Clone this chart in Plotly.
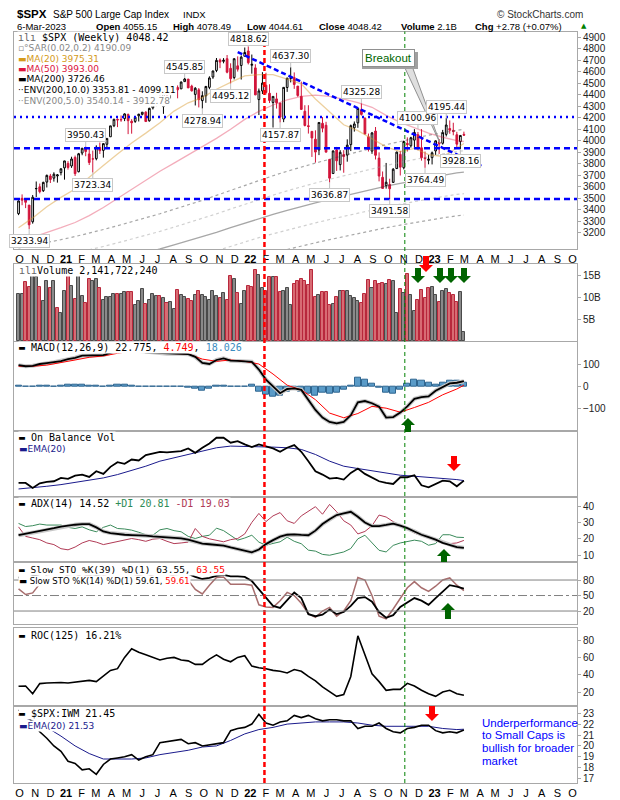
import pandas as pd
import plotly.graph_objects as go

# ======================= DATA =======================
WEEKS = pd.date_range("2020-10-05", periods=127, freq="7D")
PREV_CLOSE0 = 3348.44

OPEN = [3367, 3500, 3493, 3441, 3296, 3583, 3600, 3566, 3641, 3694,
        3675, 3694, 3723, 3764, 3803, 3781, 3855, 3731, 3893, 3939,
        3885, 3842, 3844, 3942, 3916, 3969, 4034, 4130, 4185, 4185,
        4192, 4228, 4169, 4168, 4216, 4229, 4248, 4173, 4285, 4321,
        4373, 4296, 4409, 4406, 4437, 4462, 4450, 4513, 4535, 4474,
        4402, 4442, 4348, 4390, 4463, 4553, 4610, 4701, 4689, 4712,
        4628, 4548, 4650, 4653, 4733, 4779, 4655, 4632, 4357, 4432,
        4482, 4412, 4332, 4363, 4327, 4188, 4462, 4541, 4548, 4474,
        4385, 4256, 4130, 4081, 4013, 3920, 4151, 4134, 3838, 3715,
        3920, 3792, 3880, 3875, 3966, 4112, 4155, 4269, 4195, 4034,
        3910, 4084, 3849, 3682, 3610, 3620, 3638, 3758, 3881, 3765,
        3977, 3956, 4005, 4052, 3939, 3853, 3830, 3853, 3911, 3989,
        3978, 4055, 4106, 4090, 4052, 3992, 4055.15]
HIGH = [3482, 3534, 3501, 3441, 3529, 3646, 3628, 3644, 3706, 3712,
        3726, 3711, 3760, 3826, 3823, 3861, 3871, 3894, 3937, 3950.43,
        3928, 3914, 3960, 3984, 3978, 4020, 4129, 4191, 4194, 4219,
        4238, 4236, 4187, 4213, 4234, 4249, 4256, 4286, 4355, 4372,
        4394, 4415, 4430, 4440, 4468, 4480, 4513, 4545.85, 4535, 4486,
        4465, 4457, 4429, 4475, 4559, 4608, 4718, 4714, 4717, 4744,
        4672, 4713, 4732, 4740, 4809, 4818.62, 4748, 4664, 4453, 4595,
        4590, 4490, 4385, 4416, 4327, 4465, 4546, 4637.30, 4593, 4471,
        4513, 4308, 4308, 4081, 4090, 4158, 4205, 4164, 3838, 3913,
        3946, 3918, 3918, 4012, 4140, 4167, 4280, 4325.28, 4203, 4062,
        4076, 4119, 3899, 3733, 3807, 3670, 3762, 3905, 3912, 4001,
        4029, 4034, 4100.5, 4076, 4100.96, 3906, 3878, 3906, 4003, 4015,
        4094, 4195.44, 4176, 4156, 4077, 4049, 4078.49]
LOW = [3354, 3440, 3415, 3233.94, 3280, 3511, 3543, 3555, 3594, 3633,
       3645, 3636, 3699, 3662, 3749, 3764, 3694, 3725, 3874, 3865,
       3789, 3723.34, 3830, 3885, 3853, 3939, 4035, 4118, 4118, 4164,
       4170, 4057, 4061, 4155, 4167, 4220, 4164, 4165, 4271, 4300,
       4322, 4233, 4360, 4367, 4422, 4368, 4450, 4513, 4457, 4427,
       4306, 4289, 4278.94, 4329, 4447, 4537, 4595, 4630, 4672, 4585,
       4495.12, 4532, 4600, 4531, 4733, 4662, 4582, 4395, 4222.62, 4405,
       4401, 4327, 4114.65, 4279, 4157.87, 4161, 4424, 4506, 4450, 4381,
       4267, 4124, 4062, 3859, 3810, 3875, 4073, 3900, 3636.87, 3715,
       3738, 3742, 3722, 3818, 3910, 4079, 4112, 4218, 4057, 3906,
       3886, 3837, 3647, 3584, 3584, 3491.58, 3644, 3764, 3698, 3751,
       3906, 3940, 3938, 3918, 3827, 3764.49, 3795, 3794, 3877, 3885,
       3966, 4037, 4060, 4047, 3943, 3928.16, 4044.61]
CLOSE = [3477.13, 3483.81, 3465.39, 3269.96, 3509.44, 3585.15, 3557.54, 3638.35, 3699.12, 3663.46,
         3709.41, 3703.06, 3756.07, 3824.68, 3768.25, 3841.47, 3714.24, 3886.83, 3934.83, 3906.71,
         3811.15, 3841.94, 3943.34, 3913.10, 3974.54, 4019.87, 4128.80, 4185.47, 4180.17, 4181.17,
         4232.60, 4173.85, 4155.86, 4204.11, 4229.89, 4247.44, 4166.45, 4280.70, 4352.34, 4369.55,
         4327.16, 4411.79, 4395.26, 4436.52, 4468.00, 4441.67, 4509.37, 4535.43, 4458.58, 4432.99,
         4455.48, 4357.04, 4391.34, 4471.37, 4544.90, 4605.38, 4697.53, 4682.85, 4697.96, 4594.62,
         4538.43, 4712.02, 4620.64, 4725.79, 4766.18, 4677.03, 4662.85, 4397.94, 4431.85, 4500.53,
         4418.64, 4348.87, 4384.65, 4328.87, 4204.31, 4463.12, 4543.06, 4545.86, 4488.28, 4392.59,
         4271.78, 4131.93, 4123.34, 4023.89, 3901.36, 4158.24, 4108.54, 3900.86, 3674.84, 3911.74,
         3825.33, 3899.38, 3863.16, 3961.63, 4130.29, 4145.19, 4280.15, 4228.48, 4057.66, 3924.26,
         4067.36, 3873.33, 3693.23, 3585.62, 3639.66, 3583.07, 3752.75, 3901.06, 3770.55, 3992.93,
         3965.34, 4026.12, 4071.70, 3934.38, 3852.36, 3844.82, 3839.50, 3895.08, 3999.09, 3972.61,
         4070.56, 4136.48, 4090.46, 4079.09, 3970.04, 4045.64, 4048.42]
VOLUME_B = [10.9, 10.8, 13.5, 12.4, 15.0, 14.8, 12.4, 9.2, 13.8, 12.1,
            13.8, 7.6, 6.4, 11.6, 15.1, 12.7, 9.7, 15.1, 10.3, 8.7,
            14.3, 13.8, 14.3, 12.1, 9.5, 10.2, 10.2, 10.7, 10.8, 10.7,
            11.2, 11.2, 11.2, 8.2, 9.1, 12.0, 8.5, 9.5, 10.9, 10.4,
            10.4, 9.8, 8.8, 8.9, 7.4, 11.7, 10.5, 10.0, 9.6, 9.2,
            10.6, 11.5, 10.5, 10.2, 9.5, 11.5, 10.3, 9.8, 11.0, 9.5,
            14.9, 14.3, 11.0, 8.5, 11.4, 12.6, 12.3, 16.2, 15.2, 12.2,
            11.5, 14.6, 14.8, 14.8, 11.2, 11.5, 12.2, 8.2, 13.1, 13.8,
            14.2, 13.7, 12.9, 16.4, 10.0, 10.5, 11.2, 11.2, 8.3, 8.5,
            10.0, 11.6, 11.6, 11.5, 10.4, 9.8, 9.2, 8.7, 10.8, 14.1,
            12.2, 13.9, 13.1, 13.3, 13.1, 14.0, 13.9, 6.5, 12.0, 11.0,
            15.4, 10.6, 6.9, 9.5, 11.8, 9.8, 12.2, 12.5, 10.6, 9.0,
            11.5, 12.0, 11.0, 10.5, 9.0, 11.3, 2.14]

# overlays on a 4-week grid (weeks 0,4,...,124,126)
MA20 = [3245, 3330, 3427, 3508, 3581, 3686, 3784, 3885, 3981, 4066, 4155, 4257, 4329, 4374, 4447, 4506,
        4562, 4573, 4574, 4535, 4494, 4362, 4246, 4138, 4087, 4016, 3946, 3905, 3933, 3880, 3863, 3937, 3975.31]
MA50 = [3120, 3160, 3200, 3245, 3290, 3350, 3420, 3500, 3580, 3660, 3735, 3805, 3875, 3945, 4020, 4100,
        4185, 4255, 4310, 4355, 4385, 4395, 4385, 4360, 4330, 4290, 4220, 4160, 4110, 4065, 4030, 4000, 3993.00]
MA200 = [2790, 2810, 2830, 2855, 2880, 2905, 2935, 2965, 2995, 3025, 3060, 3095, 3130, 3165, 3205, 3245,
         3285, 3325, 3360, 3395, 3430, 3460, 3490, 3520, 3550, 3580, 3605, 3630, 3655, 3680, 3700, 3720, 3726.46]
ENV10_UP = [3069, 3091, 3113, 3141, 3168, 3196, 3229, 3262, 3295, 3328, 3366, 3405, 3443, 3482, 3526, 3570,
            3614, 3658, 3696, 3735, 3773, 3806, 3839, 3872, 3905, 3938, 3966, 3993, 4021, 4048, 4070, 4092, 4099.11]
ENV10_LO = [2511, 2529, 2547, 2570, 2592, 2615, 2642, 2669, 2696, 2723, 2754, 2786, 2817, 2849, 2885, 2921,
            2957, 2993, 3024, 3056, 3087, 3114, 3141, 3168, 3195, 3222, 3245, 3267, 3290, 3312, 3330, 3348, 3353.81]
ENV5_UP = [2930, 2951, 2972, 2998, 3024, 3050, 3082, 3113, 3145, 3176, 3213, 3250, 3287, 3323, 3365, 3407,
           3449, 3491, 3528, 3565, 3602, 3633, 3665, 3696, 3728, 3759, 3785, 3812, 3838, 3864, 3885, 3906, 3912.78]
ENV5_LO = [2651, 2670, 2689, 2712, 2736, 2760, 2788, 2817, 2845, 2874, 2907, 2940, 2974, 3007, 3045, 3082,
           3121, 3159, 3192, 3225, 3259, 3287, 3316, 3344, 3373, 3401, 3425, 3449, 3472, 3496, 3515, 3534, 3540.14]

H_LINES_DOT = [4205]
H_LINES_DASH = [3935, 3495]
TREND_DATES = ["2021-12-13", "2023-04-10"]
TREND_VALS = [4770, 3780]
RED_LINE_DATE = "2022-02-04"
GREEN_LINE_DATE = "2022-11-09"

LABEL_IDX = [3, 19, 21, 47, 52, 60, 65, 74, 77, 88, 97, 105, 113, 115, 121, 125]
LABEL_VAL = [3233.94, 3950.43, 3723.34, 4545.85, 4278.94, 4495.12, 4818.62, 4157.87, 4637.30,
             3636.87, 4325.28, 3491.58, 4100.96, 3764.49, 4195.44, 3928.16]
LABEL_HIGH = [False, True, False, True, False, False, True, False, True,
              False, True, False, True, False, True, False]

# indicators on a 2-week grid (weeks 0,2,...,126)
MACD = [95, 90, 92, 100, 104, 108, 113, 122,
        128, 138, 138, 137, 140, 150, 160, 165,
        162, 158, 152, 150, 148, 146, 147, 146,
        144, 132, 105, 100, 118, 125, 115, 114,
        112, 110, 75, 30, 0, -31, -12, -9,
        -16, -60, -106, -140, -160, -166, -160, -130,
        -72, -66, -76, -91, -140, -138, -118, -90,
        -56, -48, -45, -20, -5, 13, 16, 22.775]
MACD_HIST = [5, 0, -3, 2, 2, 0, 3, 8,
             6, 8, 5, 2, 0, 5, 8, 6,
             2, -3, -2, 0, -3, -2, 0, -1,
             -4, -10, -18, -12, 3, 5, -2, 0,
             -1, 8, -25, -38, -45, -40, -25, -15,
             -25, -35, -40, -30, -35, -30, -15, 5,
             38, 30, 12, -5, -28, -32, -15, 12,
             28, 25, 15, 8, 18, 25, 24, 18.026]
MACD_SIGNAL = [90, 90, 95, 105, 118, 130, 136, 148,
               158, 155, 150, 147, 145, 122, 112, 118,
               112, 100, 55, 5, -16, -60, -120, -141,
               -122, -90, -98, -116, -95, -72, -38, -12, 4.749]
OBV = [35, 35, 20, 34, 38, 40, 50, 47,
       57, 60, 53, 70, 62, 83, 97, 92,
       105, 102, 118, 122, 128, 126, 128, 130,
       138, 125, 140, 153, 170, 170, 155, 160,
       150, 142, 150, 145, 138, 128, 140, 148,
       128, 100, 70, 60, 48, 50, 45, 65,
       78, 62, 52, 40, 35, 32, 52, 52,
       58, 28, 22, 32, 42, 40, 25, 42]
OBV_EMA = [17, 20, 25, 30, 37, 43, 50, 60, 72, 85, 100, 110, 120, 130, 140, 145,
           145, 143, 142, 140, 135, 120, 100, 85, 78, 72, 65, 58, 55, 52, 48, 45, 42]
ADX = [22.2, 23, 24, 25, 25.5, 26.5, 27.5, 28.2,
       28.6, 29, 29, 27, 24.5, 23.5, 22.9, 22.5,
       22.3, 22.2, 22, 21.5, 21.2, 21, 20.6, 20.3,
       19.5, 18.2, 17.1, 16.7, 16.3, 15.9, 14.8, 13.7,
       12.6, 11.8, 13.5, 16.8, 19.2, 21.3, 22.5, 22.7,
       22.4, 22.2, 25, 29, 32, 34.5, 35.5, 36.5,
       33.5, 30, 27.8, 27.8, 28.5, 29.3, 28, 26.5,
       24.5, 22.5, 21, 19.5, 17.5, 16.1, 15, 14.52]
PLUS_DI = [29.4, 27.5, 28, 29, 28.4, 28.4, 28.4, 27,
           26.3, 27.3, 25.5, 24.3, 27, 28.4, 26.3, 26,
           25.3, 24, 22.5, 22.2, 25.5, 26.3, 25, 24.3,
           21.5, 20.2, 21.5, 22.2, 26.5, 25, 22.2, 19.2,
           20.5, 22.2, 18, 16.1, 17.2, 18.2, 21, 18.5,
           17, 13.1, 12.5, 10.5, 10, 11, 12, 14.1,
           20, 22.2, 17.5, 13, 12, 16, 17.5, 18.2,
           19.2, 18.5, 16.1, 17.1, 22.5, 22.5, 21, 20.81]
MINUS_DI = [27.3, 21.5, 20.5, 19.5, 17.5, 16.5, 14, 13.3,
            15, 17.5, 19, 18, 16.5, 17.5, 18.2, 19.5,
            20.2, 19.5, 18.5, 19.8, 20.2, 18.5, 17.1, 17.5,
            18, 26.3, 21.5, 20, 19, 18.2, 19.5, 20.2,
            23, 30, 35.5, 30.5, 34, 36, 31, 29.4,
            34, 37, 39.6, 35, 41, 36.5, 31, 28.4,
            23, 24.5, 28, 34.5, 33.3, 30.5, 28.5, 26,
            23.5, 22, 20.5, 19.5, 17.1, 17.1, 17.5, 19.03]
STO39 = [85, 82, 88, 92, 95, 96, 95, 94,
         93, 95, 92, 90, 92, 95, 96, 97,
         97, 96, 95, 96, 97, 96, 95, 94,
         92, 86, 82, 84, 88, 90, 87, 87,
         86, 78, 62, 45, 30, 26, 40, 56,
         45, 14, 10, 13, 23, 14, 18, 30,
         45, 47, 38, 18, 7, 12, 28, 36,
         45, 40, 32, 45, 58, 70, 67, 63.55]
STO14 = [63, 52, 55, 72, 90, 92, 95, 88,
         85, 92, 88, 95, 90, 92, 94, 96,
         92, 88, 85, 90, 94, 92, 88, 86,
         80, 62, 53, 70, 85, 86, 72, 72,
         72, 70, 32, 28, 27, 40, 56, 50,
         35, 15, 8, 20, 27, 10, 20, 40,
         85, 80, 50, 10, 5, 24, 45, 65,
         77, 65, 58, 68, 80, 84, 70, 59.61]
ROC = [26.6, 27, 18, 29.7, 30.5, 31, 31, 30.5,
       31.5, 32, 33.5, 32, 38, 45, 47, 60,
       70, 66, 63, 60, 57, 59, 60, 57,
       56, 52, 52, 58, 63, 58, 55, 60,
       62, 50, 48, 47, 45, 44, 42, 46,
       44, 38, 33, 26, 20, 15, 17, 38,
       85, 62, 41, 32, 22, 23, 23, 30,
       27, 22, 18, 15, 20, 22, 18, 16.21]
SPX_IWM = [23.3, 22.8, 22.2, 21.3, 20.7, 20.0, 19.5, 18.6,
           18.4, 17.8, 17.9, 17.4, 18.3, 18.8, 18.9, 19.0,
           19.2, 18.7, 19.0, 19.2, 20.3, 20.4, 20.5, 20.6,
           20.2, 20.3, 20.0, 20.1, 20.2, 20.3, 21.4, 21.6,
           21.7, 22.0, 22.9, 22.1, 21.9, 22.2, 22.3, 22.8,
           22.6, 22.8, 22.5, 22.3, 22.4, 22.4, 22.3, 22.3,
           21.6, 21.8, 21.8, 22.1, 21.6, 21.3, 21.2, 21.6,
           21.7, 21.9, 21.9, 21.4, 21.2, 21.3, 21.2, 21.45]
SPX_IWM_EMA = [22.8, 22.3, 21.7, 20.9, 20.0, 19.3, 18.8, 18.8, 18.8, 18.9, 19.2, 19.4, 19.6, 19.9, 20.0, 20.5,
               21.1, 21.5, 21.7, 22.0, 22.1, 22.2, 22.2, 22.2, 22.1, 21.9, 21.8, 21.8, 21.8, 21.8, 21.6, 21.5, 21.53]

MONTH_LABELS = ["O", "N", "D", "21", "F", "M", "A", "M", "J", "J", "A", "S",
                "O", "N", "D", "22", "F", "M", "A", "M", "J", "J", "A", "S",
                "O", "N", "D", "23", "F", "M", "A", "M", "J", "J", "A", "S", "O"]

# ======================= LAYOUT HELPERS =======================
G2 = list(WEEKS[::2])
G4 = list(WEEKS[::4]) + [WEEKS[126]]
PL, PR, PT, PB = 14, 577, 28, 783      # plot area in screen pixels
FW, FH = 620, 800
PAGE_OFF = 8                            # page body margin
MONO, SANS, ARIAL = "DejaVu Sans Mono", "DejaVu Sans", "Liberation Sans"
BORDER = "#A8A8A8"
XRANGE = ["2020-09-26", "2023-10-16"]


def xp(px):
    return (px - PL) / (PR - PL)


def yp(py):
    return (PB - py) / (PB - PT)


PANELS = [(31.5, 249, [3060, 4948]),
          (264, 341, [0, 17.69]),
          (341.7, 430.7, [-199, 200]),
          (430.7, 497, [-7, 191]),
          (497, 562.3, [5.7, 45.5]),
          (562.3, 624, [-5.1, 114.3]),
          (628.3, 705.5, [4.4, 93.7]),
          (706, 783, [16.6, 23.66])]
YTICKS = [list(range(3200, 5000, 100)), [5, 10, 15], [-100, 0, 100], [], [10, 20, 30, 40],
          [20, 50, 80], [20, 40, 60, 80], list(range(17, 24))]
YTEXT = [None, ["5B", "10B", "15B"], None, None, None, None, None, None]

fig = go.Figure()


def ax(i):
    return ("x" if i == 0 else f"x{i+1}"), ("y" if i == 0 else f"y{i+1}")


# ---- price panel ----
xa, ya = ax(0)
for vals, col, dash, w in [(ENV5_LO, "rgba(150,150,150,0.45)", "dot", 1.2),
                           (ENV5_UP, "rgba(150,150,150,0.45)", "dot", 1.2),
                           (ENV10_LO, "rgba(60,60,60,0.45)", "dot", 1.2),
                           (ENV10_UP, "rgba(60,60,60,0.45)", "dot", 1.2),
                           (MA200, "rgba(60,60,60,0.45)", "solid", 1.3),
                           (MA50, "rgba(220,20,60,0.35)", "solid", 1.3),
                           (MA20, "rgba(215,150,40,0.45)", "solid", 1.3)]:
    fig.add_trace(go.Scatter(x=G4, y=vals, mode="lines", line=dict(color=col, width=w, dash=dash),
                             xaxis=xa, yaxis=ya, hoverinfo="skip"))
fig.add_trace(go.Candlestick(x=WEEKS, open=OPEN, high=HIGH, low=LOW, close=CLOSE,
                             increasing=dict(line=dict(color="black", width=1), fillcolor="white"),
                             decreasing=dict(line=dict(color="#D2143A", width=1), fillcolor="#D2143A"),
                             whiskerwidth=0, xaxis=xa, yaxis=ya))

# ---- volume ----
xa, ya = ax(1)
prev = [PREV_CLOSE0] + CLOSE[:-1]
up = [c >= p for c, p in zip(CLOSE, prev)]
fig.add_trace(go.Bar(x=WEEKS, y=VOLUME_B, width=6 * 86400000,
                     marker=dict(color=["#8A8A8A" if u else "#D86B73" for u in up],
                                 line=dict(color=["#4A4A4A" if u else "#B8283C" for u in up], width=1)),
                     xaxis=xa, yaxis=ya))

# ---- MACD ----
xa, ya = ax(2)
fig.add_trace(go.Bar(x=G2, y=MACD_HIST, width=12 * 86400000,
                     marker=dict(color="#5A9BC8", line=dict(color="#2F6690", width=1)), xaxis=xa, yaxis=ya))
fig.add_trace(go.Scatter(x=G2, y=MACD, mode="lines", line=dict(color="#C8C8C8", width=4), xaxis=xa, yaxis=ya))
fig.add_trace(go.Scatter(x=G4, y=MACD_SIGNAL, mode="lines", line=dict(color="red", width=1), xaxis=xa, yaxis=ya))
fig.add_trace(go.Scatter(x=G2, y=MACD, mode="lines", line=dict(color="black", width=1.8), xaxis=xa, yaxis=ya))

# ---- OBV ----
xa, ya = ax(3)
fig.add_trace(go.Scatter(x=G4, y=OBV_EMA, mode="lines", line=dict(color="#1A1A8C", width=1), xaxis=xa, yaxis=ya))
fig.add_trace(go.Scatter(x=G2, y=OBV, mode="lines", line=dict(color="black", width=1.8), xaxis=xa, yaxis=ya))

# ---- ADX ----
xa, ya = ax(4)
fig.add_trace(go.Scatter(x=G2, y=PLUS_DI, mode="lines", line=dict(color="#3A8A5A", width=1), xaxis=xa, yaxis=ya))
fig.add_trace(go.Scatter(x=G2, y=MINUS_DI, mode="lines", line=dict(color="#B03A55", width=1), xaxis=xa, yaxis=ya))
fig.add_trace(go.Scatter(x=G2, y=ADX, mode="lines", line=dict(color="#C8C8C8", width=4), xaxis=xa, yaxis=ya))
fig.add_trace(go.Scatter(x=G2, y=ADX, mode="lines", line=dict(color="black", width=1.8), xaxis=xa, yaxis=ya))

# ---- Slow STO ----
xa, ya = ax(5)
fig.add_trace(go.Scatter(x=G2, y=STO14, mode="lines", line=dict(color="#A86E6E", width=1.5), xaxis=xa, yaxis=ya))
fig.add_trace(go.Scatter(x=G2, y=STO39, mode="lines", line=dict(color="black", width=1.8), xaxis=xa, yaxis=ya))

# ---- ROC ----
xa, ya = ax(6)
fig.add_trace(go.Scatter(x=G2, y=ROC, mode="lines", line=dict(color="black", width=1.6), xaxis=xa, yaxis=ya))

# ---- $SPX:IWM ----
xa, ya = ax(7)
fig.add_trace(go.Scatter(x=G4, y=SPX_IWM_EMA, mode="lines", line=dict(color="#1A1A8C", width=1), xaxis=xa, yaxis=ya))
fig.add_trace(go.Scatter(x=G2, y=SPX_IWM, mode="lines", line=dict(color="black", width=1.6), xaxis=xa, yaxis=ya))

# ======================= AXES =======================
month_starts = pd.date_range("2020-10-01", periods=len(MONTH_LABELS), freq="MS")
tickvals = list(month_starts + pd.Timedelta(days=6))
ticktext = [f"<b>{t}</b>" if t.isdigit() else t for t in MONTH_LABELS]

layout = dict(width=FW, height=FH,
              margin=dict(l=PL - PAGE_OFF, r=FW - (PR - PAGE_OFF), t=PT - PAGE_OFF,
                          b=FH - (PB - PAGE_OFF), pad=0, autoexpand=False),
              paper_bgcolor="white", plot_bgcolor="white", showlegend=False, bargap=0)
for i, (top, bot, rng) in enumerate(PANELS):
    n = "" if i == 0 else str(i + 1)
    xd = dict(domain=[0, 1], anchor="y" + n, range=XRANGE, type="date", showline=True, mirror=True,
              linecolor=BORDER, linewidth=1, showgrid=False, zeroline=False, tickmode="array",
              tickvals=tickvals, ticktext=ticktext, showticklabels=(i in (0, 7)), ticks="",
              tickfont=dict(family=ARIAL, size=11, color="black"), rangeslider=dict(visible=False),
              automargin=False)
    if i > 0:
        xd["matches"] = "x"
    layout["xaxis" + n] = xd
    yd = dict(domain=[yp(bot), yp(top)], anchor="x" + n, range=rng, side="right", showline=True,
              mirror=True, linecolor=BORDER, linewidth=1, showgrid=False, zeroline=False,
              tickmode="array", tickvals=YTICKS[i], ticks="outside", ticklen=3, tickcolor=BORDER,
              tickfont=dict(family=ARIAL, size=10, color="#222"), automargin=False)
    if YTEXT[i]:
        yd["ticktext"] = YTEXT[i]
    layout["yaxis" + n] = yd
fig.update_layout(**layout)

# ======================= SHAPES =======================
TOP_P = yp(PANELS[0][0])
shapes = []
for v in H_LINES_DOT:
    shapes.append(dict(type="line", xref="x domain", yref="y", x0=0, x1=1, y0=v, y1=v,
                       line=dict(color="#0000FF", width=2.5, dash="2px,4px")))
for v in H_LINES_DASH:
    shapes.append(dict(type="line", xref="x domain", yref="y", x0=0, x1=1, y0=v, y1=v,
                       line=dict(color="#0000FF", width=2.5, dash="6px,4px")))
shapes.append(dict(type="line", xref="x", yref="y", x0=TREND_DATES[0], x1=TREND_DATES[1],
                   y0=TREND_VALS[0], y1=TREND_VALS[1], line=dict(color="#0000FF", width=2.5, dash="5px,3px")))
shapes.append(dict(type="line", xref="x", yref="paper", x0=RED_LINE_DATE, x1=RED_LINE_DATE, y0=0, y1=TOP_P,
                   line=dict(color="#FF0000", width=2.5, dash="5px,3px")))
shapes.append(dict(type="line", xref="x", yref="paper", x0=GREEN_LINE_DATE, x1=GREEN_LINE_DATE, y0=0, y1=TOP_P,
                   line=dict(color="#008000", width=1, dash="4px,3px")))
for v, d in [(80, "solid"), (20, "solid"), (50, "dashdot")]:
    shapes.append(dict(type="line", xref="x6 domain", yref="y6", x0=0, x1=1, y0=v, y1=v,
                       line=dict(color="#808080", width=1, dash=d)))


def poly(pts, fill, line=None, lw=0):
    path = "M " + " L ".join(f"{xp(x):.5f},{yp(y):.5f}" for x, y in pts) + " Z"
    return dict(type="path", xref="paper", yref="paper", path=path, fillcolor=fill,
                line=dict(color=line or fill, width=lw))


def block_arrow(cx, tail, tip, color, hw=7, sw=3, hh=7):
    d = 1 if tip > tail else -1
    yh = tip - d * hh
    return poly([(cx - sw, tail), (cx + sw, tail), (cx + sw, yh), (cx + hw, yh), (cx, tip),
                 (cx - hw, yh), (cx - sw, yh)], color)


GREEN_A, RED_A = "#006400", "#FF0000"
for cx, t0, t1, c in [(418, 268, 283, GREEN_A), (440, 268, 283, GREEN_A), (451, 268, 283, GREEN_A),
                      (464, 268, 283, GREEN_A), (426, 256, 272, RED_A), (408, 432, 418, GREEN_A),
                      (454, 456, 471, RED_A), (444, 562, 549, GREEN_A), (448, 619, 603, GREEN_A),
                      (432, 706, 721, RED_A)]:
    shapes.append(block_arrow(cx, t0, t1, c))

# Breakout callout wedge + shadow
shapes.append(poly([(404, 66), (440, 143), (412, 66)], "rgba(215,215,215,0.8)", "#909090", 1))
shapes.append(poly([(362, 52), (418, 52), (418, 69), (362, 69)], "#A0A0A0"))
fig.update_layout(shapes=shapes)

# ======================= ANNOTATIONS =======================
ann = []


def txt(px, py, text, size=10, family=MONO, color="black", bg="rgba(0,0,0,0)", xanchor="left"):
    ann.append(dict(x=xp(px), y=yp(py), xref="paper", yref="paper", text=text, showarrow=False,
                    xanchor=xanchor, yanchor="middle", font=dict(family=family, size=size, color=color),
                    bgcolor=bg, borderpad=0))


# header (the top 8px of the page are the body margin, so it sits a little lower)
txt(16, 14.4, "<b>$SPX</b>", 11.5, ARIAL)
txt(52, 14.4, "S&P 500 Large Cap Index", 10, ARIAL)
txt(182, 14.4, "INDX", 9.5, ARIAL)
txt(584, 14.4, "© StockCharts.com", 10, ARIAL, "#333", xanchor="right")
txt(16, 26.2, "6-Mar-2023", 9.5, ARIAL)
for px, lab, val in [(95, "Open", "4055.15"), (172, "High", "4078.49"), (246, "Low", "4044.61"),
                     (318, "Close", "4048.42"), (400, "Volume", "2.1B"), (474, "Chg", "+2.78 (+0.07%)")]:
    txt(px, 26.2, f"<b>{lab}</b> {val}", 9.5, ARIAL)
txt(580, 26.2, "▲", 7, SANS, "#008000")

W_BG = "white"
# price legend
txt(17, 37.6, "<span style='color:#666'>ılı</span> $SPX (Weekly) 4048.42", 10, MONO, bg=W_BG)
txt(17, 48, "▫°SAR(0.02,0.2) 4190.09", 9, SANS, "#888", bg=W_BG)
txt(17, 58.5, "▬MA(20) 3975.31", 9, SANS, "#D49A1A", bg=W_BG)
txt(17, 69, "▬MA(50) 3993.00", 9, SANS, "#DC143C", bg=W_BG)
txt(17, 79.5, "▬MA(200) 3726.46", 9, SANS, "black", bg=W_BG)
txt(17, 90, "··ENV(200,10.0) 3353.81 - 4099.11", 9, SANS, "black", bg=W_BG)
txt(17, 100.5, "··ENV(200,5.0) 3540.14 - 3912.78", 9, SANS, "#888", bg=W_BG)
# panel legends
txt(18, 270.5, "<span style='color:#666'>ılı</span>Volume 2,141,722,240", 10, MONO, bg=W_BG)
txt(18, 347.5, "▬ MACD(12,26,9) 22.775, <span style='color:red'>4.749</span>, "
                "<span style='color:#3A8CC0'>18.026</span>", 10, MONO, bg=W_BG)
txt(18, 437, "▬ On Balance Vol", 10, MONO, bg=W_BG)
txt(18, 449, "▬EMA(20)", 9, SANS, "#1A1A8C", bg=W_BG)
txt(18, 504, "▬ ADX(14) 14.52 <span style='color:#2E8B57'>+DI 20.81</span> "
             "<span style='color:#B03A55'>-DI 19.03</span>", 10, MONO, bg=W_BG)
txt(18, 569, "▬ Slow STO %K(39) %D(1) 63.55, <span style='color:red'>63.55</span>", 9.5, MONO, bg=W_BG)
txt(18, 580.5, "▬ Slow STO %K(14) %D(1) 59.61, <span style='color:red'>59.61</span>", 8.5, SANS, bg=W_BG)
txt(18, 635.5, "▬ ROC(125) 16.21%", 10, MONO, bg=W_BG)
txt(18, 713.5, "▬ $SPX:IWM 21.45", 10, MONO, bg=W_BG)
txt(18, 725.5, "▬EMA(20) 21.53", 9, SANS, "#1A1A8C", bg=W_BG)

# blue note
for k, line in enumerate(["Underperformance", "to Small Caps is", "bullish for broader", "market"]):
    txt(481, 722.5 + 12.8 * k, line, 11.5, ARIAL, "#0000FF")

# Breakout box
ann.append(dict(x=xp(388), y=yp(58), xref="paper", yref="paper", text="Breakout", showarrow=False,
                font=dict(family=ARIAL, size=11.5, color="#006400"), bgcolor="white",
                bordercolor="#909090", borderwidth=1, borderpad=2, xanchor="center", yanchor="middle"))

# price call-out labels (kept clear of the header row)
p_top, p_bot, (r_lo, r_hi) = PANELS[0][0], PANELS[0][1], PANELS[0][2]


def price_px(v):
    return p_top + (r_hi - v) / (r_hi - r_lo) * (p_bot - p_top)


for i, v, hi in zip(LABEL_IDX, LABEL_VAL, LABEL_HIGH):
    off = -11 if hi else 12
    if hi and price_px(v) + off < 39:
        off = 39 - price_px(v)
    ann.append(dict(x=WEEKS[i], y=v, xref="x", yref="y", text=f"{v:.2f}", showarrow=True, arrowhead=0,
                    arrowwidth=1, arrowcolor="#C0C0C0", ax=0, ay=off,
                    font=dict(family=SANS, size=9, color="black"), bgcolor="white",
                    bordercolor="#C8C8C8", borderwidth=1, borderpad=1))

fig.update_layout(annotations=ann)
fig.write_html("out.html")
